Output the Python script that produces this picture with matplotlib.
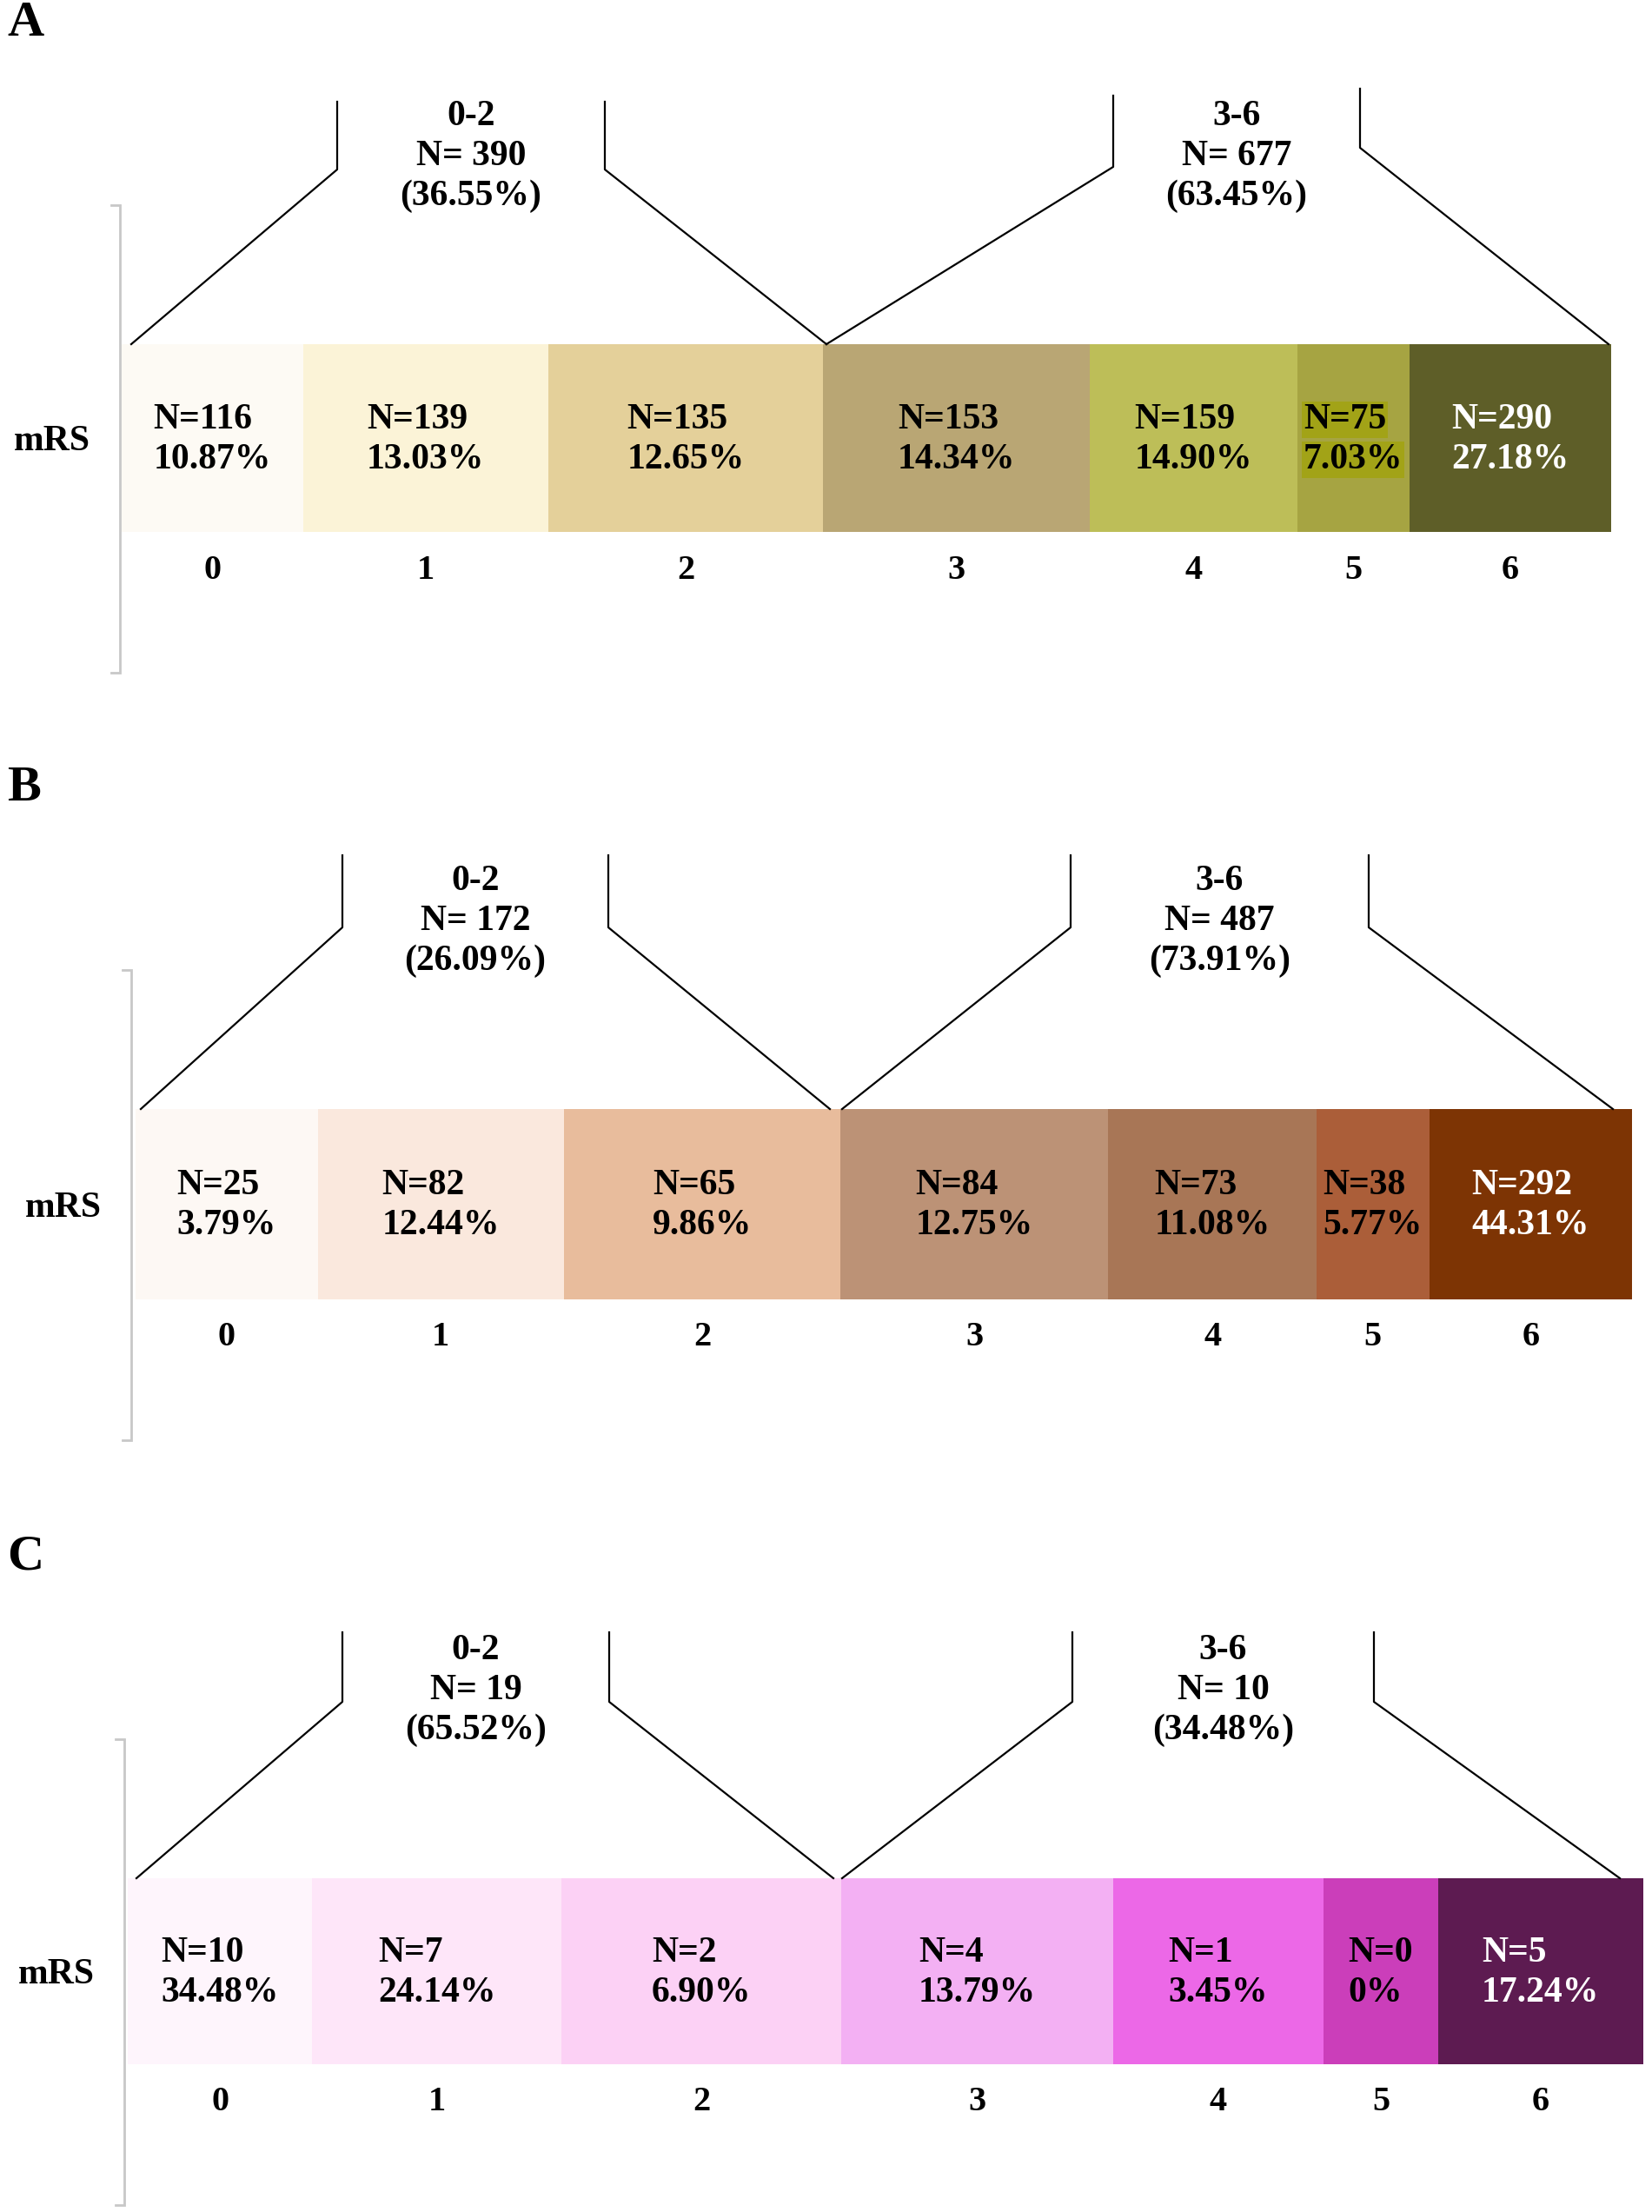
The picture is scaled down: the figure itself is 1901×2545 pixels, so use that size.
import matplotlib
matplotlib.use("Agg")
import matplotlib.pyplot as plt
import numpy as np

# ---------------- data ----------------
categories = ["0", "1", "2", "3", "4", "5", "6"]

n_A = [116, 139, 135, 153, 159, 75, 290]
pct_A = [10.87, 13.03, 12.65, 14.34, 14.90, 7.03, 27.18]
n_B = [25, 82, 65, 84, 73, 38, 292]
pct_B = [3.79, 12.44, 9.86, 12.75, 11.08, 5.77, 44.31]
n_C = [10, 7, 2, 4, 1, 0, 5]
pct_C = [34.48, 24.14, 6.90, 13.79, 3.45, 0.0, 17.24]

group_labels = ["0-2", "3-6"]
group_n_A = [390, 677]
group_pct_A = [36.55, 63.45]
group_n_B = [172, 487]
group_pct_B = [26.09, 73.91]
group_n_C = [19, 10]
group_pct_C = [65.52, 34.48]

panel_letters = ["A", "B", "C"]

# ---------------- styles / layout ----------------
colors_A = ["#FDFAF4", "#FBF3D7", "#E4D09A", "#B9A674", "#BDBE58", "#A6A442", "#5E5E28"]
colors_B = ["#FDF8F4", "#FAE8DD", "#E8BC9C", "#BC9276", "#A87656", "#AB5E39", "#7D3404"]
colors_C = ["#FEF5FC", "#FEE6F9", "#FCD1F5", "#F3B0F3", "#EC68E7", "#CB3EBA", "#5D1B51"]
white_text_idx = 6
highlight_A_idx = 5

# relative display widths of the segments (same in every panel, not data-scaled)
seg_rel = np.array([210, 284, 319, 309, 240, 130, 234], dtype=float)

W, H = 1901, 2545
FONT = "Liberation Serif"

panels = [
    dict(letter=panel_letters[0], n=n_A, pct=pct_A, gn=group_n_A, gp=group_pct_A, colors=colors_A,
         spine_x=138, bar_left=140, bar_right=1854, bar_top=396, bar_bot=612,
         brk=[(388, 696, 117, 117, 195, 195), (1281, 1565, 110, 102, 192, 170)],
         diag=(151, 951, 951, 1851), hl=highlight_A_idx),
    dict(letter=panel_letters[1], n=n_B, pct=pct_B, gn=group_n_B, gp=group_pct_B, colors=colors_B,
         spine_x=151, bar_left=156, bar_right=1878, bar_top=1276, bar_bot=1495,
         brk=[(394, 700, 984, 984, 1067, 1067), (1232, 1575, 984, 984, 1067, 1067)],
         diag=(162, 955, 969, 1856), hl=None),
    dict(letter=panel_letters[2], n=n_C, pct=pct_C, gn=group_n_C, gp=group_pct_C, colors=colors_C,
         spine_x=143, bar_left=147, bar_right=1891, bar_top=2161, bar_bot=2375,
         brk=[(394, 701, 1878, 1878, 1958, 1958), (1234, 1581, 1878, 1878, 1958, 1958)],
         diag=(157, 959, 969, 1864), hl=None),
]

fig = plt.figure(figsize=(W / 100, H / 100), dpi=100)
fig.patch.set_facecolor("white")
ax = fig.add_axes([0, 0, 1, 1])
ax.set_xlim(0, W)
ax.set_ylim(H, 0)
ax.axis("off")
renderer = fig.canvas.get_renderer()


def fmt_pct(p):
    return "0%" if p == 0 else f"{p:.2f}%"


for P in panels:
    total = P["bar_right"] - P["bar_left"]
    widths = seg_rel / seg_rel.sum() * total
    lefts = P["bar_left"] + np.concatenate([[0], np.cumsum(widths)[:-1]])
    centers = lefts + widths / 2
    yc = (P["bar_top"] + P["bar_bot"]) / 2
    bh = P["bar_bot"] - P["bar_top"]

    ax.barh([yc] * len(categories), widths, left=lefts, height=bh,
            color=P["colors"], edgecolor="none", zorder=2)

    # grey left spine with end ticks
    sx = P["spine_x"]
    st, sb = P["bar_top"] - 160, P["bar_bot"] + 162
    ax.plot([sx - 10, sx, sx, sx - 10], [st, st, sb, sb], color="#C8C8C8", lw=2.0,
            solid_joinstyle="miter", zorder=1)

    # panel letter
    ax.text(8, P["bar_top"] - 369, P["letter"], fontsize=42, fontweight="bold",
            family=FONT, ha="left", va="center")

    # mRS label
    ax.text(sx - 78, yc + 4, "mRS", fontsize=30, fontweight="bold", family=FONT,
            ha="center", va="center")

    # segment labels
    for i in range(len(categories)):
        col = "white" if i == white_text_idx else "black"
        bbox = None
        if P["hl"] is not None and i == P["hl"]:
            bbox = dict(boxstyle="square,pad=0.05", fc="#A2A317", ec="none")
        y1 = yc + 2 - 23
        y2 = yc + 2 + 23
        t1 = ax.text(0, y1, f"N={P['n'][i]}", fontsize=30, fontweight="bold",
                     family=FONT, color=col, ha="left", va="center", zorder=4, bbox=bbox)
        t2 = ax.text(0, y2, fmt_pct(P["pct"][i]), fontsize=30, fontweight="bold",
                     family=FONT, color=col, ha="left", va="center", zorder=4, bbox=bbox)
        w1 = t1.get_window_extent(renderer=renderer).width
        w2 = t2.get_window_extent(renderer=renderer).width
        x0 = centers[i] - max(w1, w2) / 2
        t1.set_x(x0)
        t2.set_x(x0)
        # category tick label
        ax.text(centers[i], P["bar_bot"] + 44, categories[i], fontsize=29,
                fontweight="bold", family=FONT, ha="center", va="center")

    # brackets
    d = P["diag"]
    ends = [(d[0], d[1]), (d[2], d[3])]
    for g in range(2):
        vl, vr, tl, tr, kl, kr = P["brk"][g]
        el, er = ends[g]
        ax.plot([vl, vl, el], [tl, kl, P["bar_top"]], color="black", lw=1.6, zorder=3)
        ax.plot([vr, vr, er], [tr, kr, P["bar_top"]], color="black", lw=1.6, zorder=3)
        mx = (vl + vr) / 2
        base = P["bar_top"] - 216
        lines = [group_labels[g], f"N= {P['gn'][g]}", f"({P['gp'][g]:.2f}%)"]
        for k, s in enumerate(lines):
            ax.text(mx, base + (k - 1) * 46, s, fontsize=30, fontweight="bold",
                    family=FONT, ha="center", va="center")

fig.savefig("out.png", dpi=100, facecolor="white")
